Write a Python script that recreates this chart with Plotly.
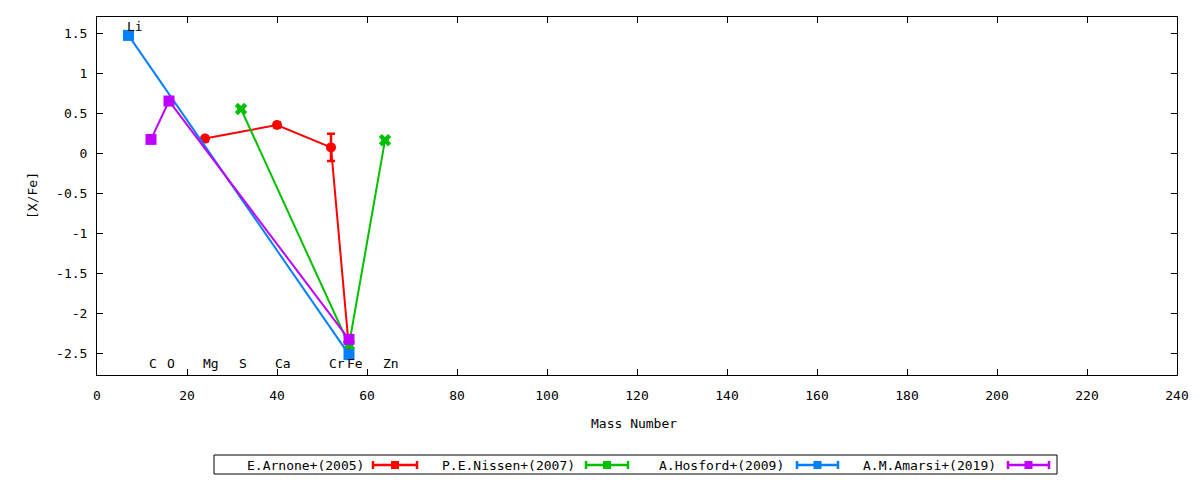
import plotly.graph_objects as go

# ---- data ----
arnone_x = [24, 40, 52, 56]
arnone_y = [0.18, 0.35, 0.07, -2.45]
arnone_err = [0.03, 0.03, 0.17, 0.03]

nissen_x = [32, 56, 64]
nissen_y = [0.55, -2.40, 0.16]
nissen_err = [0.02, 0.02, 0.02]

hosford_x = [7, 56]
hosford_y = [1.47, -2.52]
hosford_err = [0.02, 0.02]

amarsi_x = [12, 16, 56]
amarsi_y = [0.17, 0.65, -2.33]
amarsi_err = [0.02, 0.02, 0.02]

elem_names = ["Li", "C", "O", "Mg", "S", "Ca", "Cr", "Fe", "Zn"]
elem_mass = [7, 12, 16, 24, 32, 40, 52, 56, 64]
elem_label_y = [1.58, -2.63, -2.63, -2.63, -2.63, -2.63, -2.63, -2.63, -2.63]

series_names = ["E.Arnone+(2005)", "P.E.Nissen+(2007)", "A.Hosford+(2009)", "A.M.Amarsi+(2019)"]
series_colors = ["#ff0000", "#00c000", "#0080ff", "#c000ff"]
series_symbols = ["circle", "x", "square", "square"]

x_ticks = list(range(0, 241, 20))
y_ticks = [-2.5, -2, -1.5, -1, -0.5, 0, 0.5, 1, 1.5]
y_ticktext = ["-2.5", "-2", "-1.5", "-1", "-0.5", "0", "0.5", "1", "1.5"]

FONT = "DejaVu Sans Mono"

fig = go.Figure()
data = [
    (arnone_x, arnone_y, arnone_err),
    (nissen_x, nissen_y, nissen_err),
    (hosford_x, hosford_y, hosford_err),
    (amarsi_x, amarsi_y, amarsi_err),
]
for (xs, ys, es), name, col, sym in zip(data, series_names, series_colors, series_symbols):
    fig.add_trace(go.Scatter(
        x=xs, y=ys, name=name, mode="lines+markers",
        line=dict(color=col, width=2),
        marker=dict(color=col, symbol=sym, size=11 if sym != "circle" else 10),
        error_y=dict(type="data", array=es, visible=True, color=col, thickness=2.5, width=4),
        showlegend=False,
    ))

annotations = []
for n, m, ly in zip(elem_names, elem_mass, elem_label_y):
    annotations.append(dict(x=m, y=ly, xref="x", yref="y", text=n, showarrow=False,
                            xanchor="left", yanchor="middle", xshift=-4,
                            font=dict(family=FONT, size=13, color="black")))

# plot area in pixels: x 97..1177, y 17..375
def px(p):
    return (p - 97) / 1080.0

def py(p):
    return (375 - p) / 358.0

annotations.append(dict(x=px(634), y=py(424), xref="paper", yref="paper", text="Mass Number",
                        showarrow=False, xanchor="center", yanchor="middle",
                        font=dict(family=FONT, size=13, color="black")))
annotations.append(dict(x=px(32), y=py(196), xref="paper", yref="paper", text="[X/Fe]",
                        showarrow=False, xanchor="center", yanchor="middle", textangle=-90,
                        font=dict(family=FONT, size=13, color="black")))

shapes = []
# legend box
shapes.append(dict(type="rect", xref="paper", yref="paper", x0=px(214), x1=px(1057),
                   y0=py(474), y1=py(455), line=dict(color="black", width=1), fillcolor="rgba(0,0,0,0)"))
leg_text_right = [366, 577, 786, 998]
leg_sample = [(373, 417), (586, 628), (797, 838), (1008, 1049)]
leg_y = 465
for name, col, tr, (s0, s1) in zip(series_names, series_colors, leg_text_right, leg_sample):
    annotations.append(dict(x=px(tr), y=py(leg_y), xref="paper", yref="paper", text=name,
                            showarrow=False, xanchor="right", yanchor="middle",
                            font=dict(family=FONT, size=13, color="black")))
    shapes.append(dict(type="line", xref="paper", yref="paper", x0=px(s0), x1=px(s1),
                       y0=py(leg_y), y1=py(leg_y), line=dict(color=col, width=2.5)))
    for sx in (s0, s1):
        shapes.append(dict(type="line", xref="paper", yref="paper", x0=px(sx), x1=px(sx),
                           y0=py(leg_y - 4), y1=py(leg_y + 4), line=dict(color=col, width=2.5)))
    mid = (s0 + s1) / 2
    shapes.append(dict(type="rect", xref="paper", yref="paper", x0=px(mid - 4), x1=px(mid + 4),
                       y0=py(leg_y + 4), y1=py(leg_y - 4), line=dict(color=col, width=0), fillcolor=col))

fig.update_layout(
    width=1200, height=480,
    margin=dict(l=97, r=23, t=17, b=105),
    paper_bgcolor="white", plot_bgcolor="white",
    font=dict(family=FONT, size=13, color="black"),
    showlegend=False,
    annotations=annotations,
    shapes=shapes,
    xaxis=dict(range=[0, 240], tickvals=x_ticks, ticktext=[str(v) for v in x_ticks],
               showgrid=False, zeroline=False, showline=True, linecolor="black", linewidth=1,
               mirror="ticks", ticks="inside", ticklen=6, tickcolor="black",
               ticklabelstandoff=8),
    yaxis=dict(range=[-2.775, 1.7], tickvals=y_ticks, ticktext=y_ticktext,
               showgrid=False, zeroline=False, showline=True, linecolor="black", linewidth=1,
               mirror="ticks", ticks="inside", ticklen=6, tickcolor="black",
               ticklabelstandoff=6),
)

fig.write_html("out.html", config={"displayModeBar": False},
               post_script="document.body.style.margin='0px';document.body.style.overflow='hidden';")
